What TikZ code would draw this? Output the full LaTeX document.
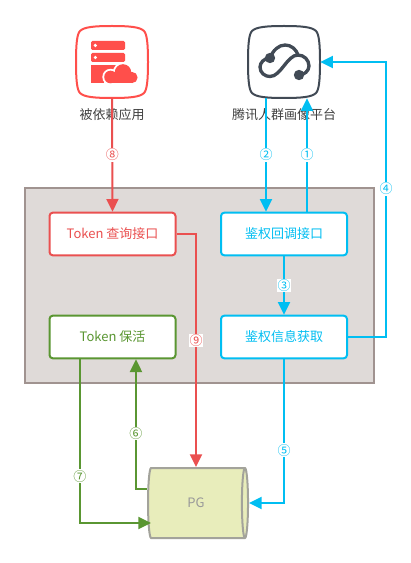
\documentclass[tikz,border=0pt]{standalone}
\usepackage{fontspec}
\setmainfont{Noto Sans CJK SC}
\usetikzlibrary{arrows.meta,shapes.geometric}

\definecolor{tokenred}{HTML}{EA5050}
\definecolor{iconred}{HTML}{FF4F4B}
\definecolor{authblue}{HTML}{00BEF2}
\definecolor{keepgreen}{HTML}{5A9632}
\definecolor{icondark}{HTML}{414A55}
\definecolor{panelfill}{HTML}{DFDAD8}
\definecolor{paneldraw}{HTML}{A09390}
\definecolor{pgfill}{HTML}{E8EDBB}
\definecolor{pgdraw}{HTML}{A3A39B}

\newcommand{\squirclepath}{(0,-36) .. controls (18,-36) and (28,-35) .. (32,-31)
  .. controls (35,-28) and (36,-18) .. (36,0)
  .. controls (36,18) and (35,28) .. (32,31)
  .. controls (28,35) and (18,36) .. (0,36)
  .. controls (-18,36) and (-28,35) .. (-32,31)
  .. controls (-35,28) and (-36,18) .. (-36,0)
  .. controls (-36,-18) and (-35,-28) .. (-32,-31)
  .. controls (-28,-35) and (-18,-36) .. (0,-36) -- cycle}

\tikzset{
  apibox/.style={draw, fill=white, line width=1.5pt, rounded corners=2.5pt,
    minimum width=94.5pt, minimum height=32pt, inner sep=0pt, font=\fontsize{9.75}{12}\selectfont},
  iconbox/.style={minimum width=54pt, minimum height=54pt, inner sep=0pt},
  iconlabel/.style={text=black!75, font=\fontsize{9.75}{12}\selectfont, inner sep=0pt},
  numlabel/.style={fill=white, inner sep=0.5pt, font=\fontsize{9.75}{11}\selectfont},
  flow/.style={-{Triangle[length=9.5pt,width=9pt]}, line width=1.5pt},
  flowthin/.style={-{Triangle[length=9.5pt,width=9pt]}, line width=1.3pt},
}

\begin{document}
\begin{tikzpicture}[x=0.75pt, y=-0.75pt]
  \useasboundingbox (0,0) rectangle (410,563);

  %% Panel behind the four interfaces
  \fill[panelfill] (25,188) rectangle (374,383);
  \draw[paneldraw, line width=1.5pt] (25,188) rectangle (374,383);

  %% Top left: application icon
  \begin{scope}[shift={(112,62)}]
    \draw[iconred, line width=1.5pt, fill=white] \squirclepath;
    \fill[iconred, rounded corners=1pt] (-21,-21) rectangle (13,-12);
    \fill[iconred, rounded corners=1pt] (-21,-9) rectangle (13,0);
    \fill[white] (-16.7,-16.5) circle (1.8);
    \fill[white] (-16.7,-4.5) circle (1.8);
    \fill[iconred] (-21,3) rectangle (10,21);
    % cloud, white outline first
    \draw[white, line width=2.5pt, fill=white] (-1.5,15) circle (6.5) (11,10.5) circle (8.5) (20,15.5) circle (5.5);
    \fill[white] (-8,15) rectangle (25,23.5);
    \fill[iconred] (-1.5,15) circle (6.3) (11,10.5) circle (8.3) (20,15.5) circle (5.6);
    \fill[iconred] (-1.5,14) rectangle (20,21.2);
  \end{scope}

  %% Top right: platform icon
  \begin{scope}[shift={(284,62)}]
    \draw[icondark, line width=1.5pt, fill=white] \squirclepath;
    \draw[icondark, line width=2.5pt]
      (-14,-4) .. controls (-20,-4) and (-24,1) .. (-24,5)
      .. controls (-24,11) and (-19,14.5) .. (-14,14.5)
      .. controls (-3,14.5) and (3,-7) .. (14,-7)
      .. controls (20,-7) and (25,-2) .. (25,4)
      .. controls (25,9) and (20,13) .. (15,13);
    \draw[icondark, line width=2.5pt]
      (-14,-4) .. controls (-11,-12) and (-5,-17) .. (1,-17)
      .. controls (7,-17) and (12,-13) .. (14,-7);
    \fill[icondark] (-14,-4) circle (5.2);
    \fill[icondark] (15,13) circle (5.2);
  \end{scope}

  \node[iconbox] (appIcon) at (112,62) {};
  \node[iconbox] (platformIcon) at (284,62) {};
  \node[iconlabel] (appLabel) at (112,115) {被依赖应用};
  \node[iconlabel] (platformLabel) at (284,115) {腾讯人群画像平台};

  %% Interfaces
  \node[apibox, draw=tokenred, text=tokenred] (tokenQuery) at (112.5,234) {Token 查询接口};
  \node[apibox, draw=authblue, text=authblue] (authCallback) at (284,234) {鉴权回调接口};
  \node[apibox, draw=keepgreen, text=keepgreen] (tokenKeep) at (112.5,337) {Token 保活};
  \node[apibox, draw=authblue, text=authblue] (authInfo) at (284,337) {鉴权信息获取};

  %% Store
  \node[cylinder, shape aspect=0.62, aspect=0.62, draw=pgdraw, line width=1.5pt, cylinder uses custom fill,
    cylinder body fill=pgfill, cylinder end fill=pgfill, minimum height=75pt, minimum width=52.5pt,
    inner sep=0pt, text=black!40, font=\fontsize{9.75}{12}\selectfont] (pg) at (196,503) {PG};

  %% Connectors
  \draw[flow, tokenred] (appIcon.south) -- node[numlabel] {⑧} (tokenQuery.north);
  \draw[flow, authblue] ([xshift=-13.5pt]platformIcon.south) -- node[numlabel] {②} ([xshift=-13.5pt]authCallback.north);
  \draw[flow, authblue] ([xshift=17.25pt]authCallback.north) -- node[numlabel] {①} ([xshift=17.25pt]platformIcon.south);
  \draw[flow, authblue] (authCallback.south) -- node[numlabel] {③} (authInfo.north);
  \draw[flow, authblue] (authInfo.east) -- ++(38,0) |- node[numlabel, pos=0.269] {④} (platformIcon.east);
  \draw[flow, authblue] (authInfo.south) |- node[numlabel, pos=0.316] {⑤} (pg.east);
  \draw[flow, keepgreen] ([yshift=10.5pt]pg.west) -| node[numlabel, pos=0.715] {⑥} ([xshift=17.6pt]tokenKeep.south);
  \draw[flow, keepgreen] ([xshift=-24.4pt]tokenKeep.south) |- node[numlabel, pos=0.357] {⑦} ([yshift=-15pt,xshift=3pt]pg.west);
  \draw[flow, tokenred] (tokenQuery.east) -| node[numlabel, pos=0.729] {⑨} (pg.north);

\end{tikzpicture}
\end{document}
